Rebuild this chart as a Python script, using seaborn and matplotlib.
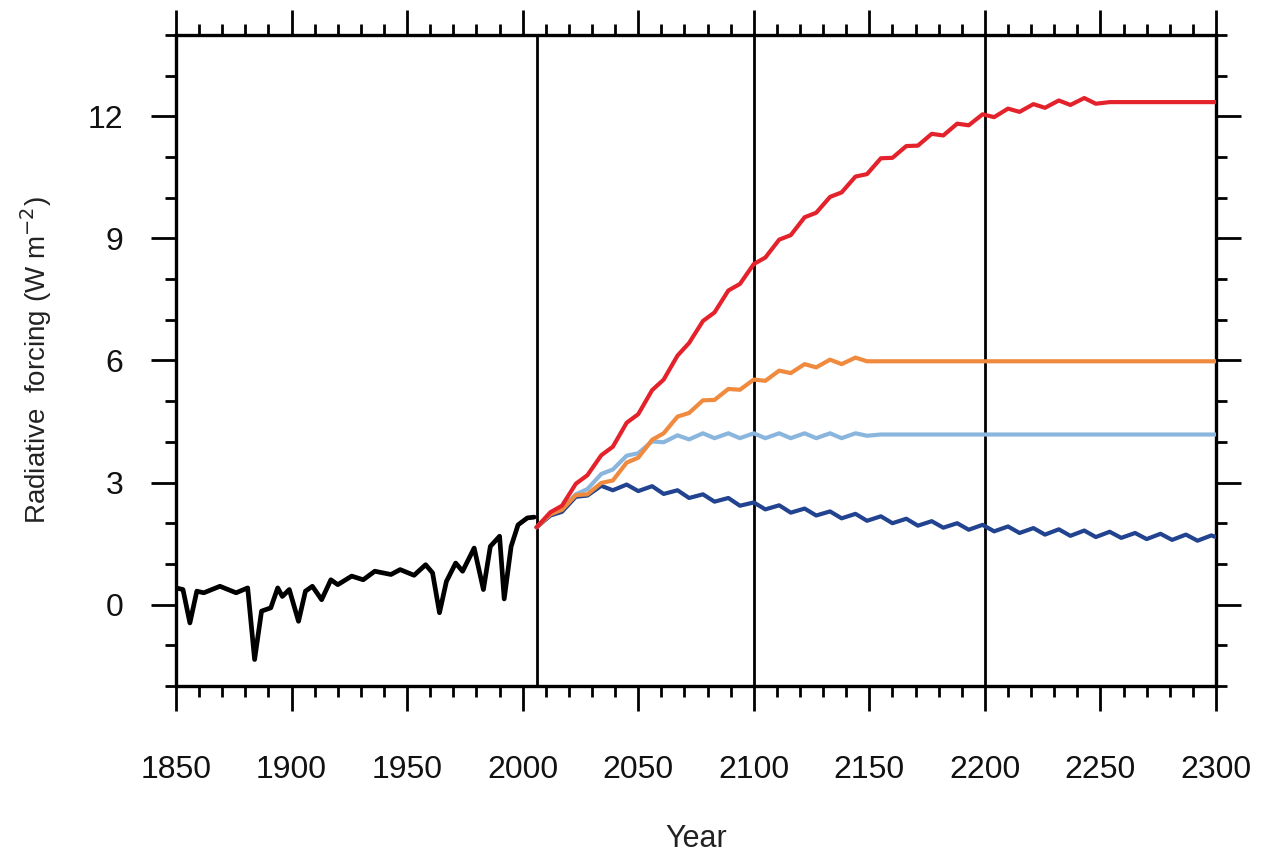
import numpy as np
import pandas as pd
import seaborn as sns
import matplotlib.pyplot as plt
from matplotlib.ticker import MultipleLocator

# Historical forcing (black)
hist_years = [1850, 1853, 1856, 1859, 1862, 1869, 1876, 1881, 1884, 1887, 1891, 1894,
              1896, 1899, 1903, 1906, 1909, 1913, 1917, 1920, 1926, 1931, 1936, 1943,
              1947, 1953, 1958, 1961, 1964, 1967, 1971, 1974, 1979, 1983, 1986, 1990,
              1992, 1995, 1998, 2002, 2005]
hist_vals = [0.41, 0.37, -0.45, 0.33, 0.29, 0.45, 0.29, 0.41, -1.35, -0.16, -0.08, 0.41,
             0.20, 0.37, -0.41, 0.33, 0.45, 0.12, 0.61, 0.49, 0.70, 0.61, 0.82, 0.74,
             0.86, 0.72, 0.98, 0.78, -0.20, 0.57, 1.02, 0.82, 1.39, 0.37, 1.43, 1.68,
             0.14, 1.43, 1.96, 2.13, 2.15]

# Scenario years (solar-cycle peaks and troughs)
rcp_years = [2006, 2012, 2017, 2023, 2028, 2034, 2039, 2045, 2050, 2056, 2061, 2067,
             2072, 2078, 2083, 2089, 2094, 2100, 2105, 2111, 2116, 2122, 2127, 2133,
             2138, 2144, 2149, 2155, 2160, 2166, 2171, 2177, 2182, 2188, 2193, 2199,
             2204, 2210, 2215, 2221, 2226, 2232, 2237, 2243, 2248, 2254, 2259, 2265,
             2270, 2276, 2281, 2287, 2292, 2298, 2300]

rcp85 = [1.90, 2.27, 2.43, 2.97, 3.18, 3.67, 3.88, 4.47, 4.68, 5.27, 5.53, 6.12,
         6.43, 6.97, 7.18, 7.72, 7.88, 8.37, 8.53, 8.97, 9.08, 9.52, 9.63, 10.02,
         10.13, 10.52, 10.58, 10.97, 10.98, 11.27, 11.28, 11.57, 11.53, 11.82, 11.78, 12.05,
         11.98, 12.19, 12.11, 12.30, 12.21, 12.39, 12.28, 12.45, 12.31, 12.35, 12.35, 12.35,
         12.35, 12.35, 12.35, 12.35, 12.35, 12.35, 12.35]

rcp60 = [1.90, 2.22, 2.33, 2.69, 2.71, 2.99, 3.05, 3.49, 3.61, 4.05, 4.21, 4.62,
         4.71, 5.02, 5.03, 5.30, 5.28, 5.53, 5.50, 5.75, 5.69, 5.91, 5.83, 6.02,
         5.91, 6.07, 5.98, 5.98, 5.98, 5.98, 5.98, 5.98, 5.98, 5.98, 5.98, 5.98,
         5.98, 5.98, 5.98, 5.98, 5.98, 5.98, 5.98, 5.98, 5.98, 5.98, 5.98, 5.98,
         5.98, 5.98, 5.98, 5.98, 5.98, 5.98, 5.98]

rcp45 = [1.90, 2.21, 2.34, 2.71, 2.84, 3.21, 3.32, 3.66, 3.72, 4.01, 3.99, 4.16,
         4.06, 4.21, 4.09, 4.21, 4.09, 4.21, 4.09, 4.21, 4.09, 4.21, 4.09, 4.21,
         4.09, 4.21, 4.15, 4.18, 4.18, 4.18, 4.18, 4.18, 4.18, 4.18, 4.18, 4.18,
         4.18, 4.18, 4.18, 4.18, 4.18, 4.18, 4.18, 4.18, 4.18, 4.18, 4.18, 4.18,
         4.18, 4.18, 4.18, 4.18, 4.18, 4.18, 4.18]

rcp26 = [1.90, 2.19, 2.28, 2.65, 2.68, 2.92, 2.81, 2.95, 2.79, 2.91, 2.72, 2.81,
         2.62, 2.71, 2.53, 2.62, 2.43, 2.51, 2.34, 2.44, 2.26, 2.36, 2.19, 2.29,
         2.12, 2.23, 2.06, 2.17, 2.00, 2.11, 1.94, 2.05, 1.89, 2.00, 1.84, 1.96,
         1.80, 1.92, 1.76, 1.88, 1.72, 1.85, 1.69, 1.82, 1.66, 1.79, 1.64, 1.76,
         1.61, 1.74, 1.59, 1.72, 1.57, 1.70, 1.66]

scenario_colors = {"RCP4.5": "#8ab6de", "RCP2.6": "#22438f",
                   "RCP6.0": "#ef8a3e", "RCP8.5": "#e4222b"}
divider_years = [2006, 2100, 2200]

sns.set_theme(style="ticks")
plt.rcParams["font.family"] = ["Liberation Sans", "DejaVu Sans"]
plt.rcParams["text.color"] = "#111111"
plt.rcParams["axes.labelcolor"] = "#222222"
plt.rcParams["xtick.labelcolor"] = "#111111"
plt.rcParams["ytick.labelcolor"] = "#111111"

rcp = pd.DataFrame({
    "year": rcp_years * 4,
    "forcing": rcp45 + rcp26 + rcp60 + rcp85,
    "scenario": (["RCP4.5"] * len(rcp_years) + ["RCP2.6"] * len(rcp_years)
                 + ["RCP6.0"] * len(rcp_years) + ["RCP8.5"] * len(rcp_years)),
})
hist = pd.DataFrame({"year": hist_years, "forcing": hist_vals})

fig = plt.figure(figsize=(12.61, 8.55), dpi=100)
ax = fig.add_axes([0.1396, 0.1977, 0.8247, 0.7614])

for yr in divider_years:
    ax.axvline(yr, color="black", lw=2.0, zorder=1)

sns.lineplot(data=hist, x="year", y="forcing", color="black", lw=3.4,
             estimator=None, ax=ax, zorder=3)
sns.lineplot(data=rcp, x="year", y="forcing", hue="scenario", palette=scenario_colors,
             estimator=None, lw=3.0, legend=False, ax=ax, zorder=3)

ax.set_xlim(1850, 2300)
ax.set_ylim(-2, 14)
ax.xaxis.set_major_locator(MultipleLocator(50))
ax.xaxis.set_minor_locator(MultipleLocator(10))
ax.yaxis.set_major_locator(MultipleLocator(3))
ax.yaxis.set_minor_locator(MultipleLocator(1))

ax.tick_params(which="both", direction="out", top=True, right=True,
               color="black", width=2.0, labelsize=23)
ax.tick_params(which="major", length=18)
ax.tick_params(which="minor", length=8)
ax.tick_params(axis="x", which="major", pad=32)
ax.tick_params(axis="y", which="major", pad=20)

for sp in ax.spines.values():
    sp.set_linewidth(2.4)
    sp.set_color("black")

ax.set_xlabel("Year", fontsize=22, labelpad=28)
ax.set_ylabel("Radiative  forcing (W m$^{-2}$)", fontsize=20, labelpad=24)

fig.savefig("out.png", dpi=100)
